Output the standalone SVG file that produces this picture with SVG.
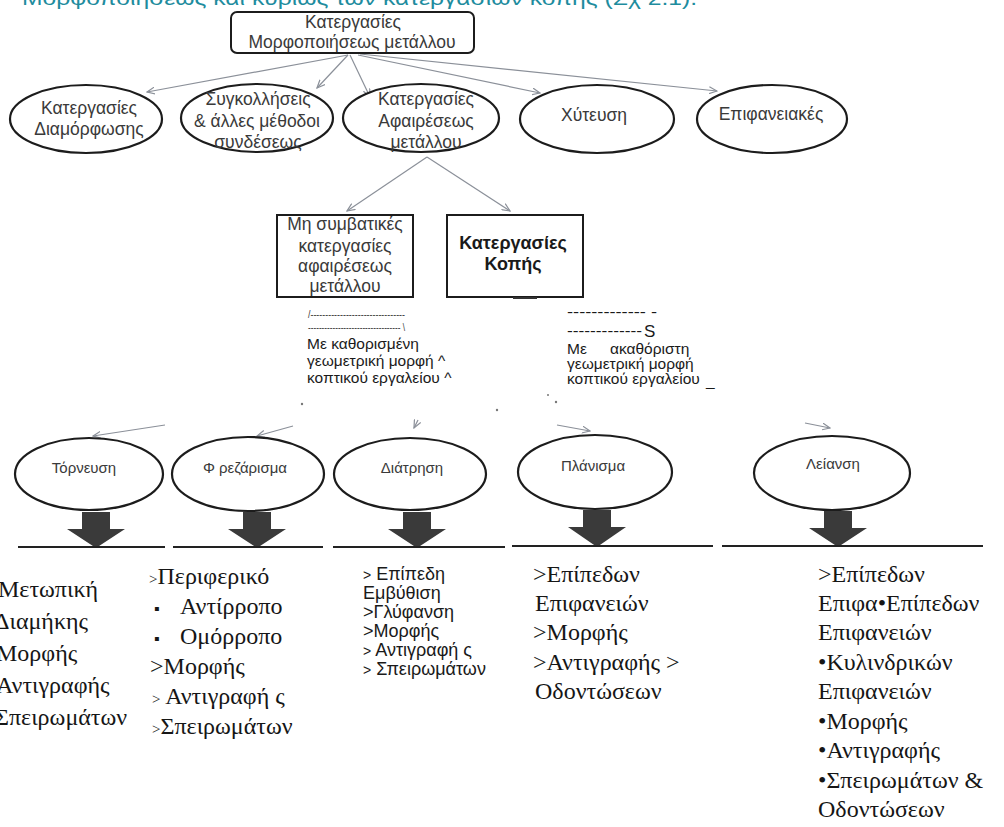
<svg xmlns="http://www.w3.org/2000/svg" width="1004" height="827" viewBox="0 0 1004 827">
<defs>
<style>
.box{fill:#fff;stroke:#1c1c1c;stroke-width:2}
.ell{fill:#fff;stroke:#1c1c1c;stroke-width:2.2}
.s{font-family:"Liberation Sans",Arial,sans-serif;fill:#3a3a3a}
.b{font-family:"Liberation Sans",Arial,sans-serif;fill:#1a1a1a;font-weight:bold}
.r{font-family:"Liberation Serif","Times New Roman",serif;fill:#161616}
.k{fill:#1a1a1a}
.c{stroke:#8b9099;stroke-width:1.2;fill:none;marker-end:url(#ah)}
.base{stroke:#222;stroke-width:2.2;fill:none}
.big{fill:#3a3a3a}
</style>
<marker id="ah" markerWidth="9" markerHeight="8" refX="8" refY="4" orient="auto" markerUnits="userSpaceOnUse">
<path d="M0,0.5 L8,4 L0,7.5" fill="none" stroke="#8b9099" stroke-width="1.2"/>
</marker>
</defs>
<rect width="1004" height="827" fill="#fff"/>

<text class="s" x="22" y="5" font-size="21" style="fill:#1e8c9e" textLength="675" lengthAdjust="spacingAndGlyphs">Μορφοποιήσεως και κυρίως των κατεργασιών κοπής (Σχ 2.1).</text>

<g id="connectors">
<line class="c" x1="348" y1="55" x2="147" y2="92"/>
<line class="c" x1="348" y1="55" x2="317" y2="88"/>
<line class="c" x1="350" y1="55" x2="370" y2="97"/>
<line class="c" x1="358" y1="55" x2="540" y2="93"/>
<line class="c" x1="360" y1="54" x2="717" y2="91"/>
<line class="c" x1="427" y1="157" x2="347" y2="211"/>
<line class="c" x1="427" y1="157" x2="510" y2="211"/>
<line class="c" x1="165" y1="425" x2="93" y2="436"/>
<line class="c" x1="293" y1="426" x2="257" y2="436"/>
<line class="c" x1="418" y1="420" x2="414" y2="428"/>
<line class="c" x1="557" y1="425" x2="590" y2="431"/>
<line class="c" x1="805" y1="423" x2="830" y2="428"/>
</g>

<g id="n-root">
<rect class="box" x="231" y="12" width="243" height="41" rx="6"/>
<text class="s" x="353" y="28" font-size="17.5" text-anchor="middle">Κατεργασίες</text>
<text class="s" x="352" y="48" font-size="17.5" text-anchor="middle">Μορφοποιήσεως μετάλλου</text>
</g>

<g id="n-diamorfosi">
<ellipse class="ell" cx="86" cy="119" rx="76" ry="34"/>
<text class="s" x="89" y="114" font-size="17.5" text-anchor="middle">Κατεργασίες</text>
<text class="s" x="89" y="135" font-size="17.5" text-anchor="middle">Διαμόρφωσης</text>
</g>
<g id="n-sygkollisi">
<ellipse class="ell" cx="257" cy="118" rx="76" ry="34"/>
<text class="s" x="258" y="105" font-size="17.5" text-anchor="middle">Συγκολλήσεις</text>
<text class="s" x="257" y="127" font-size="17.5" text-anchor="middle">&amp; άλλες μέθοδοι</text>
<text class="s" x="258" y="148" font-size="17.5" text-anchor="middle">συνδέσεως</text>
</g>
<g id="n-afairesi">
<ellipse class="ell" cx="421" cy="118" rx="78" ry="34"/>
<text class="s" x="426" y="105" font-size="17.5" text-anchor="middle">Κατεργασίες</text>
<text class="s" x="426" y="127" font-size="17.5" text-anchor="middle">Αφαιρέσεως</text>
<text class="s" x="426" y="148" font-size="17.5" text-anchor="middle">μετάλλου</text>
</g>
<g id="n-xytefsi">
<ellipse class="ell" cx="597" cy="119" rx="77" ry="34"/>
<text class="s" x="594" y="121" font-size="17.5" text-anchor="middle">Χύτευση</text>
</g>
<g id="n-epifaneiakes">
<ellipse class="ell" cx="772" cy="119" rx="75" ry="34"/>
<text class="s" x="771" y="120" font-size="17.5" text-anchor="middle">Επιφανειακές</text>
</g>

<g id="n-mi-symvatikes">
<rect class="box" x="277" y="215" width="136" height="82"/>
<text class="s" x="345" y="230" font-size="17.5" text-anchor="middle">Μη συμβατικές</text>
<text class="s" x="345" y="252" font-size="17.5" text-anchor="middle">κατεργασίες</text>
<text class="s" x="345" y="272" font-size="17.5" text-anchor="middle">αφαιρέσεως</text>
<text class="s" x="345" y="292" font-size="17.5" text-anchor="middle">μετάλλου</text>
</g>
<g id="n-kopi">
<rect class="box" x="447" y="215" width="136" height="82"/>
<line x1="513" y1="298" x2="537" y2="298" stroke="#333" stroke-width="2"/>
<text class="b" x="513" y="249" font-size="18" text-anchor="middle">Κατεργασίες</text>
<text class="b" x="513" y="270" font-size="18" text-anchor="middle">Κοπής</text>
</g>

<g id="n-kathorismeni">
<text class="s" x="308" y="318" font-size="10" textLength="97" lengthAdjust="spacingAndGlyphs">/--------------------------------</text>
<text class="s" x="308" y="331" font-size="10" textLength="97" lengthAdjust="spacingAndGlyphs">---------------------------------- \</text>
<text class="s k" x="307" y="349" font-size="15.5">Με καθορισμένη</text>
<text class="s k" x="307" y="366" font-size="15.5">γεωμετρική μορφή ^</text>
<text class="s k" x="307" y="383" font-size="15.5">κοπτικού εργαλείου ^</text>
</g>
<g id="n-akathoristi">
<text class="s k" x="567" y="317" font-size="14" textLength="90" lengthAdjust="spacingAndGlyphs">------------- -</text>
<text class="s k" x="567" y="336" font-size="14" textLength="75" lengthAdjust="spacingAndGlyphs">-------------</text>
<text class="s k" x="644" y="337" font-size="17">S</text>
<text class="s k" x="567" y="354" font-size="15.5">Με</text>
<text class="s k" x="610" y="354" font-size="15.5">ακαθόριστη</text>
<text class="s k" x="567" y="369" font-size="15.5">γεωμετρική μορφή</text>
<text class="s k" x="567" y="384" font-size="15.5">κοπτικού εργαλείου</text>
<text class="s k" x="706" y="386" font-size="15.5">_</text>
</g>
<g id="specks" fill="#777">
<circle cx="302" cy="404" r="1.2"/>
<circle cx="497" cy="410" r="1.2"/>
<circle cx="548" cy="395" r="1"/>
<circle cx="556" cy="402" r="1.2"/>
</g>

<g id="n-tornefsi">
<ellipse class="ell" cx="89" cy="474" rx="74" ry="36"/>
<text class="s" x="84" y="473" font-size="15" text-anchor="middle">Τόρνευση</text>
<path class="big" d="M82,512 H110 V529 H125 L96,548 L67,529 H82 Z"/>
<line class="base" x1="18" y1="547" x2="165" y2="547"/>
</g>
<g id="n-frezarisma">
<ellipse class="ell" cx="248" cy="474" rx="76" ry="37"/>
<text class="s" x="245" y="473" font-size="15" text-anchor="middle">Φ ρεζάρισμα</text>
<path class="big" d="M243,512 H271 V529 H286 L257,548 L228,529 H243 Z"/>
<line class="base" x1="173" y1="547" x2="323" y2="547"/>
</g>
<g id="n-diatrisi">
<ellipse class="ell" cx="410" cy="474" rx="76" ry="36"/>
<text class="s" x="412" y="473" font-size="15" text-anchor="middle">Διάτρηση</text>
<path class="big" d="M403,512 H431 V529 H446 L417,548 L388,529 H403 Z"/>
<line class="base" x1="333" y1="547" x2="505" y2="547"/>
</g>
<g id="n-planisma">
<ellipse class="ell" cx="595" cy="472" rx="77" ry="37"/>
<text class="s" x="593" y="471" font-size="15" text-anchor="middle">Πλάνισμα</text>
<path class="big" d="M583,510 H611 V527 H626 L597,547 L568,527 H583 Z"/>
<line class="base" x1="512" y1="546" x2="713" y2="546"/>
</g>
<g id="n-leiansi">
<ellipse class="ell" cx="832" cy="473" rx="78" ry="37"/>
<text class="s" x="833" y="469" font-size="15" text-anchor="middle">Λείανση</text>
<path class="big" d="M824,511 H852 V528 H867 L838,547 L809,528 H824 Z"/>
<line class="base" x1="722" y1="546" x2="983" y2="546"/>
</g>

<g id="list-tornefsi" font-size="24">
<text class="r" x="-2" y="597">Μετωπική</text>
<text class="r" x="-6" y="629">Διαμήκης</text>
<text class="r" x="-4" y="661">Μορφής</text>
<text class="r" x="-4" y="693">Αντιγραφής</text>
<text class="r" x="-5" y="725">Σπειρωμάτων</text>
</g>
<g id="list-frezarisma" font-size="24">
<text class="r" x="149" y="584"><tspan font-size="15">&gt;</tspan>Περιφερικό</text>
<text class="r" x="154" y="614" font-size="16">▪</text><text class="r" x="180" y="614">Αντίρροπο</text>
<text class="r" x="154" y="644" font-size="16">▪</text><text class="r" x="180" y="644">Ομόρροπο</text>
<text class="r" x="150" y="674">&gt;Μορφής</text>
<text class="r" x="152" y="704"><tspan font-size="15">&gt;</tspan> Αντιγραφή ς</text>
<text class="r" x="152" y="734"><tspan font-size="15">&gt;</tspan>Σπειρωμάτων</text>
</g>
<g id="list-diatrisi" font-size="18">
<text class="s k" x="363" y="580"><tspan font-size="14">&gt;</tspan> Επίπεδη</text>
<text class="s k" x="363" y="599">Εμβύθιση</text>
<text class="s k" x="363" y="618">&gt;Γλύφανση</text>
<text class="s k" x="363" y="637">&gt;Μορφής</text>
<text class="s k" x="363" y="656"><tspan font-size="14">&gt;</tspan> Αντιγραφή ς</text>
<text class="s k" x="363" y="675"><tspan font-size="14">&gt;</tspan> Σπειρωμάτων</text>
</g>
<g id="list-planisma" font-size="24">
<text class="r" x="533" y="582">&gt;Επίπεδων</text>
<text class="r" x="535" y="611">Επιφανειών</text>
<text class="r" x="533" y="640">&gt;Μορφής</text>
<text class="r" x="533" y="670">&gt;Αντιγραφής &gt;</text>
<text class="r" x="535" y="699">Οδοντώσεων</text>
</g>
<g id="list-leiansi" font-size="24">
<text class="r" x="818" y="582">&gt;Επίπεδων</text>
<text class="r" x="818" y="611">Επιφα•Επίπεδων</text>
<text class="r" x="818" y="640">Επιφανειών</text>
<text class="r" x="818" y="670">•Κυλινδρικών</text>
<text class="r" x="818" y="699">Επιφανειών</text>
<text class="r" x="818" y="729">•Μορφής</text>
<text class="r" x="818" y="758">•Αντιγραφής</text>
<text class="r" x="818" y="788">•Σπειρωμάτων &amp;</text>
<text class="r" x="818" y="817">Οδοντώσεων</text>
</g>
</svg>
